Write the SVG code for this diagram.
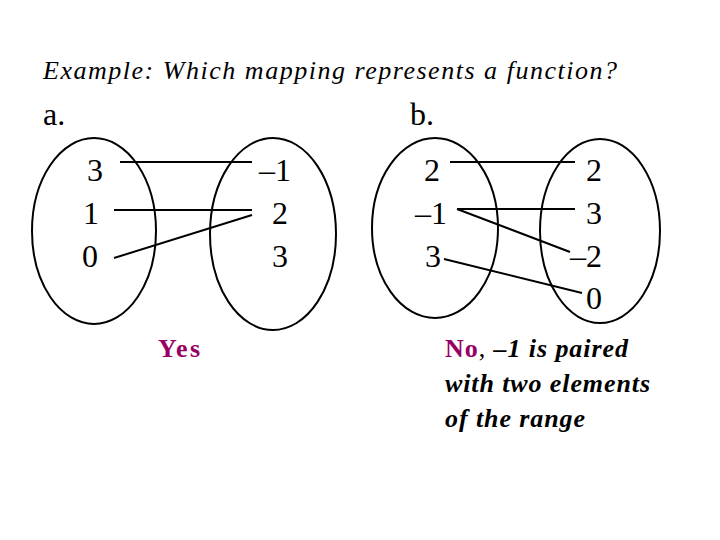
<svg xmlns="http://www.w3.org/2000/svg" width="720" height="540" viewBox="0 0 720 540">
<style>
text{font-family:"Liberation Serif","Times New Roman",serif;fill:#000}
.n{font-size:32px}
.t{font-size:26px;font-style:italic}
.ans{font-size:26px;font-weight:bold;font-style:italic}
.p{fill:#990066;font-weight:bold;font-style:normal}
ellipse{fill:none;stroke:#000;stroke-width:2}
line{stroke:#000;stroke-width:2}
</style>
<rect width="720" height="540" fill="#fff"/>
<text class="t" x="43" y="79" textLength="574" lengthAdjust="spacing">Example:  Which mapping represents a function?</text>
<text class="n" x="43" y="125">a.</text>
<text class="n" x="410" y="125">b.</text>
<g id="a-domain">
<ellipse cx="94" cy="231" rx="62" ry="93"/>
<text class="n" x="95" y="181" text-anchor="middle">3</text>
<text class="n" x="91" y="224" text-anchor="middle">1</text>
<text class="n" x="90" y="267" text-anchor="middle">0</text>
</g>
<g id="a-range">
<ellipse cx="273" cy="234" rx="63" ry="96"/>
<text class="n" x="291" y="181" text-anchor="end">–1</text>
<text class="n" x="288" y="224" text-anchor="end">2</text>
<text class="n" x="288" y="267" text-anchor="end">3</text>
</g>
<g id="b-domain">
<ellipse cx="435" cy="228" rx="63" ry="90"/>
<text class="n" x="432" y="181" text-anchor="middle">2</text>
<text class="n" x="431" y="224" text-anchor="middle">–1</text>
<text class="n" x="433" y="267" text-anchor="middle">3</text>
</g>
<g id="b-range">
<ellipse cx="600" cy="231" rx="60" ry="92"/>
<text class="n" x="602" y="181" text-anchor="end">2</text>
<text class="n" x="602" y="224" text-anchor="end">3</text>
<text class="n" x="602" y="267" text-anchor="end">–2</text>
<text class="n" x="602" y="309" text-anchor="end">0</text>
</g>
<g id="connectors">
<line x1="120" y1="162" x2="252" y2="162"/>
<line x1="114" y1="210" x2="252" y2="210"/>
<line x1="114" y1="258" x2="252" y2="215"/>
<line x1="450" y1="162" x2="575" y2="162"/>
<line x1="457" y1="209" x2="575" y2="209"/>
<line x1="457" y1="209" x2="570" y2="252"/>
<line x1="444" y1="259" x2="582" y2="293"/>
</g>
<text class="ans" x="158" y="357" textLength="42" lengthAdjust="spacing"><tspan class="p">Yes</tspan></text>
<text class="ans" x="445" y="357" textLength="183" lengthAdjust="spacing"><tspan class="p">No</tspan><tspan font-weight="normal" font-style="normal">, </tspan>–1 is paired</text>
<text class="ans" x="445" y="392" textLength="205" lengthAdjust="spacing">with two elements</text>
<text class="ans" x="445" y="427" textLength="140" lengthAdjust="spacing">of the range</text>
</svg>
